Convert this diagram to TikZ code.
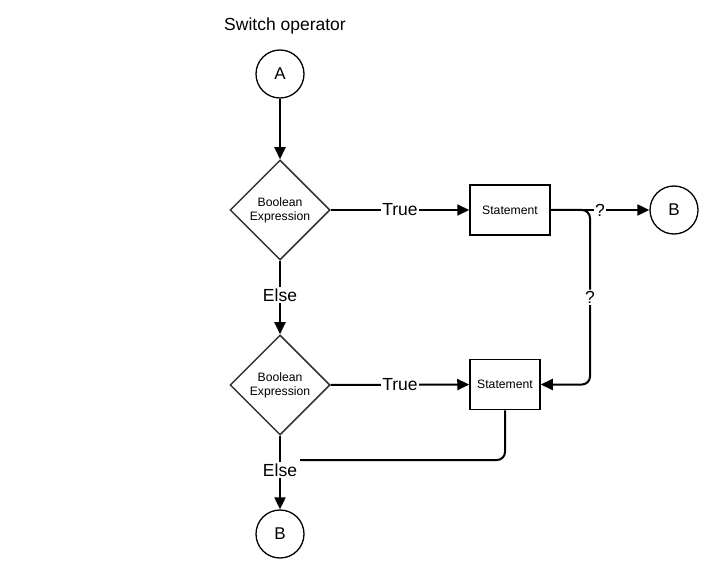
\documentclass[tikz,border=0pt]{standalone}
\usepackage{fontspec}
\setmainfont{Liberation Sans}
\usetikzlibrary{shapes.geometric,arrows.meta}
\begin{document}
\begin{tikzpicture}[x=1pt,y=-1pt,
  conn/.style={line width=2pt,-{Triangle[length=12pt,width=11pt]}},
  plain/.style={line width=2pt},
  lbl/.style={fill=white,inner sep=1.5pt,font=\fontsize{17.5}{19}\selectfont},
  term/.style={circle,draw,line width=1.3pt,minimum size=48pt,inner sep=0pt,font=\fontsize{17}{19}\selectfont},
  decide/.style={diamond,draw=black!80,line width=1.5pt,minimum size=100pt,inner sep=0pt,align=center,font=\fontsize{12.2}{14}\selectfont},
  stmt/.style={rectangle,draw,line width=1.5pt,minimum height=50pt,inner sep=0pt,font=\fontsize{12.2}{14}\selectfont}
]
\useasboundingbox (0,0) rectangle (720,580);
\node[font=\fontsize{17.5}{20}\selectfont] (title) at (285,26) {Switch operator};
\node[term] (A) at (280,74) {A};
\node[decide] (d1) at (280,210) {Boolean\\Expression};
\node[stmt,minimum width=80pt] (s1) at (510,210) {Statement};
\node[term] (B1) at (674,210) {B};
\node[decide] (d2) at (280,385) {Boolean\\Expression};
\node[stmt,minimum width=70pt] (s2) at (505,384.5) {Statement};
\node[term] (B2) at (280,534) {B};
\coordinate (c1) at (590,210);
\coordinate (c2) at (590,384.5);
\coordinate (e2) at (300,460);

\draw[conn] (A) -- (d1);
\draw[conn] (d1) -- node[lbl]{True} (s1);
\draw[conn,rounded corners=8pt] (s1.east) -- (c1) -- node[lbl]{?} (c2) -- (s2.east);
\draw[conn] (s1) -- node[lbl]{?} (B1);
\draw[conn] (d1) -- node[lbl,pos=0.47]{Else} (d2);
\draw[conn] (d2) -- node[lbl,pos=0.47]{Else} (B2);
\draw[conn] (d2) -- node[lbl]{True} (s2);
\draw[plain,rounded corners=8pt] (s2.south) |- (e2);
\end{tikzpicture}
\end{document}
